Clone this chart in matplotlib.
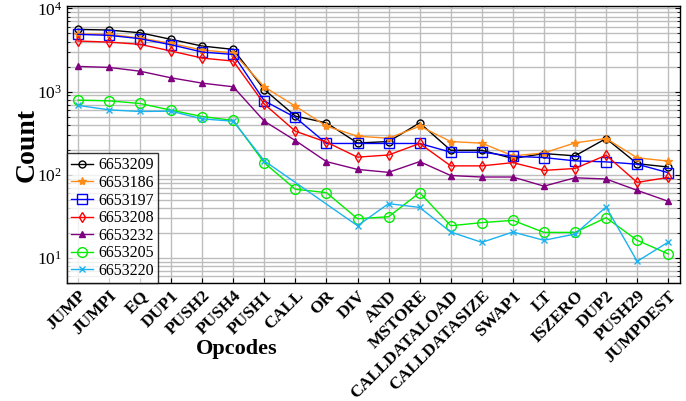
import matplotlib
matplotlib.use('Agg')
import matplotlib.pyplot as plt
import numpy as np

plt.rcParams['font.family'] = ['Liberation Serif', 'DejaVu Serif']
plt.rcParams['mathtext.fontset'] = 'stix'

opcodes = ['JUMP', 'JUMPI', 'EQ', 'DUP1', 'PUSH2', 'PUSH4', 'PUSH1', 'CALL', 'OR', 'DIV',
           'AND', 'MSTORE', 'CALLDATALOAD', 'CALLDATASIZE', 'SWAP1', 'LT', 'ISZERO',
           'DUP2', 'PUSH29', 'JUMPDEST']

c6653209 = [5600, 5500, 5100, 4250, 3530, 3220, 1060, 507, 421, 241,
            251, 421, 197, 197, 157, 180, 169, 273, 136, 124]
c6653186 = [4930, 4880, 4410, 3800, 3160, 2930, 1140, 668, 384, 291,
            275, 384, 251, 240, 169, 183, 242, 273, 160, 146]
c6653197 = [4880, 4750, 4330, 3660, 2990, 2800, 774, 489, 238, 238,
            238, 238, 187, 187, 167, 161, 147, 143, 134, 106]
c6653208 = [4060, 3940, 3700, 3080, 2530, 2330, 707, 334, 247, 163,
            173, 238, 128, 128, 140, 113, 119, 172, 81, 93]
c6653232 = [2010, 1955, 1760, 1465, 1265, 1143, 441, 258, 144, 116,
            107, 144, 98, 94, 94, 73, 92, 89, 65, 48]
c6653205 = [790, 775, 720, 598, 502, 450, 139, 67, 61, 29.6,
            31.3, 61, 24.4, 26.6, 28.3, 20.3, 20.3, 30.5, 16.3, 11.2]
# CALL and OR have no point for this block (line joins PUSH1 to DIV)
c6653220 = [683, 604, 577, 582, 470, 441, 147, None, None, 24.4,
            45, 40.5, 20.5, 15.4, 20.5, 16.3, 19.4, 41, 9.1, 15.5]

series = [
    ('6653209', c6653209, 'black', 'o', 5, 'none'),
    ('6653186', c6653186, '#ff8c1a', '*', 6, None),
    ('6653197', c6653197, 'blue', 's', 7, 'none'),
    ('6653208', c6653208, 'red', 'd', 5, 'none'),
    ('6653232', c6653232, 'purple', '^', 5, None),
    ('6653205', c6653205, '#00ee00', 'o', 7, 'none'),
    ('6653220', c6653220, '#1ab2f0', 'x', 4, None),
]

fig = plt.figure(figsize=(6.86, 4.01), dpi=100)
ax = fig.add_axes([0.0977, 0.2943, 0.8936, 0.6907])

x = np.arange(len(opcodes))
for name, vals, col, mk, ms, mfc in series:
    xs = [i for i, v in zip(x, vals) if v is not None]
    ys = [v for v in vals if v is not None]
    kw = dict(color=col, marker=mk, markersize=ms, linewidth=1.0, label=name)
    if mfc is not None:
        kw['markerfacecolor'] = mfc
    ax.plot(xs, ys, **kw)

ax.set_yscale('log')
ax.set_ylim(5, 1.07e4)
ax.set_xlim(-0.35, 19.38)
ax.set_xticks(x)
ax.set_xticklabels(opcodes, rotation=45, ha='right', rotation_mode='anchor',
                   fontsize=12.5, fontweight='bold')
ax.tick_params(axis='y', labelsize=12.5)
ax.tick_params(direction='in', which='both', right=True, top=False)
ax.grid(True, which='major', color='#bdbdbd', linewidth=1.0)
ax.grid(True, which='minor', axis='y', color='#bdbdbd', linewidth=1.0)
ax.set_axisbelow(True)
for sp in ax.spines.values():
    sp.set_linewidth(1.0)

ax.set_ylabel('Count', fontsize=20, fontweight='bold')
ax.yaxis.set_label_coords(-0.044, 0.5)
ax.set_xlabel('Opcodes', fontsize=16, fontweight='bold')
ax.xaxis.set_label_coords(0.276, -0.203)

leg = ax.legend(loc='lower left', fontsize=11.5, frameon=True, fancybox=False,
                edgecolor='black', borderaxespad=0, handlelength=1.4,
                labelspacing=0.1, borderpad=0.25, handletextpad=0.3)
leg.get_frame().set_linewidth(1.0)

fig.savefig('out.png', dpi=100)
